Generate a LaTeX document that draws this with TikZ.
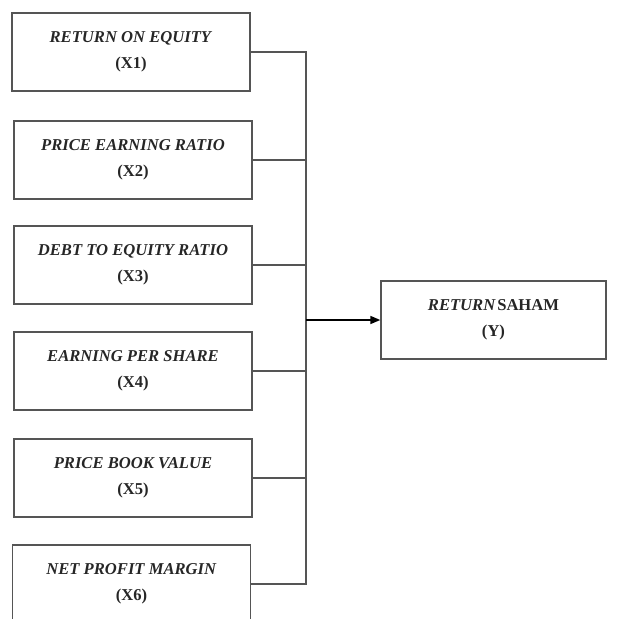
\documentclass[tikz,border=0pt]{standalone}
\usepackage{fontspec}
\setmainfont{Liberation Serif}
\usetikzlibrary{arrows.meta}

\definecolor{linegray}{HTML}{555555}
\definecolor{textgray}{HTML}{262626}

\tikzset{
    varbox/.style={draw=linegray, line width=1.4pt, minimum width=238pt, minimum height=78pt,
        align=center, text=textgray, font=\fontsize{16.6}{26.5}\selectfont\bfseries},
    link/.style={draw=linegray, line width=1.3pt}
}

\begin{document}
\begin{tikzpicture}[x=1pt, y=-1pt]
            \useasboundingbox (0,0) rectangle (619,619);
            \clip (0,0) rectangle (619,619);

            \node (X1) at (131,52) [varbox] {\textit{RETURN ON EQUITY}\\(X1)};
            \node (X2) at (133,160) [varbox] {\textit{PRICE EARNING RATIO}\\(X2)};
            \node (X3) at (133,265) [varbox] {\textit{DEBT TO EQUITY RATIO}\\(X3)};
            \node (X4) at (133,371) [varbox] {\textit{EARNING PER SHARE}\\(X4)};
            \node (X5) at (133,478) [varbox] {\textit{PRICE BOOK VALUE}\\(X5)};
            \node (X6) at (131.5,584) [varbox] {\textit{NET PROFIT MARGIN}\\(X6)};

            \node (Y) at (493.5,320) [varbox, minimum width=225pt] {\textit{RETURN}\hspace{1.5pt}SAHAM\\(Y)};

            % collecting line
            \coordinate (bus) at (306,52);
            \draw[link] (X1.east) -- (X1.east -| bus) -- (X6.east -| bus) -- (X6.east);
            \draw[link] (X2.east) -- (X2.east -| bus);
            \draw[link] (X3.east) -- (X3.east -| bus);
            \draw[link] (X4.east) -- (X4.east -| bus);
            \draw[link] (X5.east) -- (X5.east -| bus);

            \draw[link, -{Triangle[length=10pt, width=8pt]}, draw=black, line width=1.6pt] (Y.west -| bus) -- (Y.west);
        \end{tikzpicture}
\end{document}
